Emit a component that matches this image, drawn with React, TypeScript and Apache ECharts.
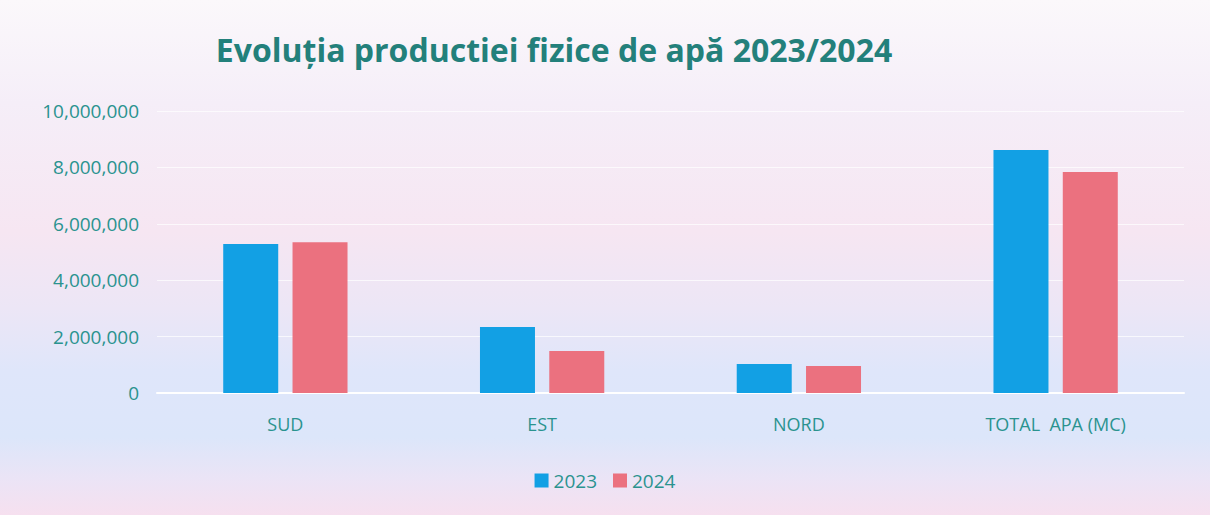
import React, { useEffect, useRef } from "react";
import * as echarts from "echarts";

const categories = ["SUD", "EST", "NORD", "TOTAL  APA (MC)"];
const values2023 = [5280000, 2340000, 1030000, 8620000];
const values2024 = [5350000, 1490000, 960000, 7840000];
const seriesNames = ["2023", "2024"];
const titleText = "Evoluția productiei fizice de apă 2023/2024";

export default function App() {
  const ref = useRef<HTMLDivElement>(null);
  useEffect(() => {
    if (!ref.current) return;
    const chart = echarts.init(ref.current, null, { renderer: "svg" });
    const teal = "#2a938f";
    chart.setOption({
      animation: false,
      backgroundColor: {
        type: "linear",
        x: 0, y: 0, x2: 0, y2: 1,
        colorStops: [
          { offset: 0, color: "#fbf8fb" },
          { offset: 0.2, color: "#f5eef8" },
          { offset: 0.45, color: "#f6e6f2" },
          { offset: 0.6, color: "#ece6f6" },
          { offset: 0.72, color: "#dfe6fa" },
          { offset: 0.85, color: "#dce6fa" },
          { offset: 0.93, color: "#ebe4f6" },
          { offset: 1, color: "#f6e0ef" },
        ],
      },
      title: {
        text: titleText,
        left: 549,
        top: 28,
        textAlign: "center",
        textStyle: {
          fontFamily: "Open Sans",
          fontWeight: "bold",
          fontSize: 32,
          color: "#23807b",
        },
      },
      legend: {
        data: seriesNames,
        left: "center",
        top: 466,
        itemWidth: 14,
        itemHeight: 14,
        itemGap: 16,
        icon: "rect",
        textStyle: { fontFamily: "Open Sans", fontSize: 19, color: teal },
      },
      grid: { left: 157, right: 26, top: 111, bottom: 122 },
      xAxis: {
        type: "category",
        data: categories,
        axisLine: { show: true, lineStyle: { color: "#ffffff", width: 2 } },
        axisTick: { show: false },
        axisLabel: { fontFamily: "Open Sans", fontSize: 18, color: teal, margin: 22 },
      },
      yAxis: {
        type: "value",
        min: 0,
        max: 10000000,
        interval: 2000000,
        axisLine: { show: false },
        axisTick: { show: false },
        splitLine: { lineStyle: { color: "rgba(255,255,255,0.7)", width: 1 } },
        axisLabel: {
          fontFamily: "Open Sans",
          fontSize: 19,
          color: teal,
          margin: 18,
          formatter: (v: number) => v.toLocaleString("en-US"),
        },
      },
      series: [
        {
          name: seriesNames[0],
          type: "bar",
          data: values2023,
          barWidth: 55,
          barGap: "26%",
          itemStyle: { color: "#12a0e4" },
        },
        {
          name: seriesNames[1],
          type: "bar",
          data: values2024,
          barWidth: 55,
          itemStyle: { color: "#eb717f" },
        },
      ],
    });
    return () => chart.dispose();
  }, []);
  return (
    <div
      ref={ref}
      style={{ position: "absolute", left: 0, top: 0, width: 1210, height: 515 }}
    />
  );
}
